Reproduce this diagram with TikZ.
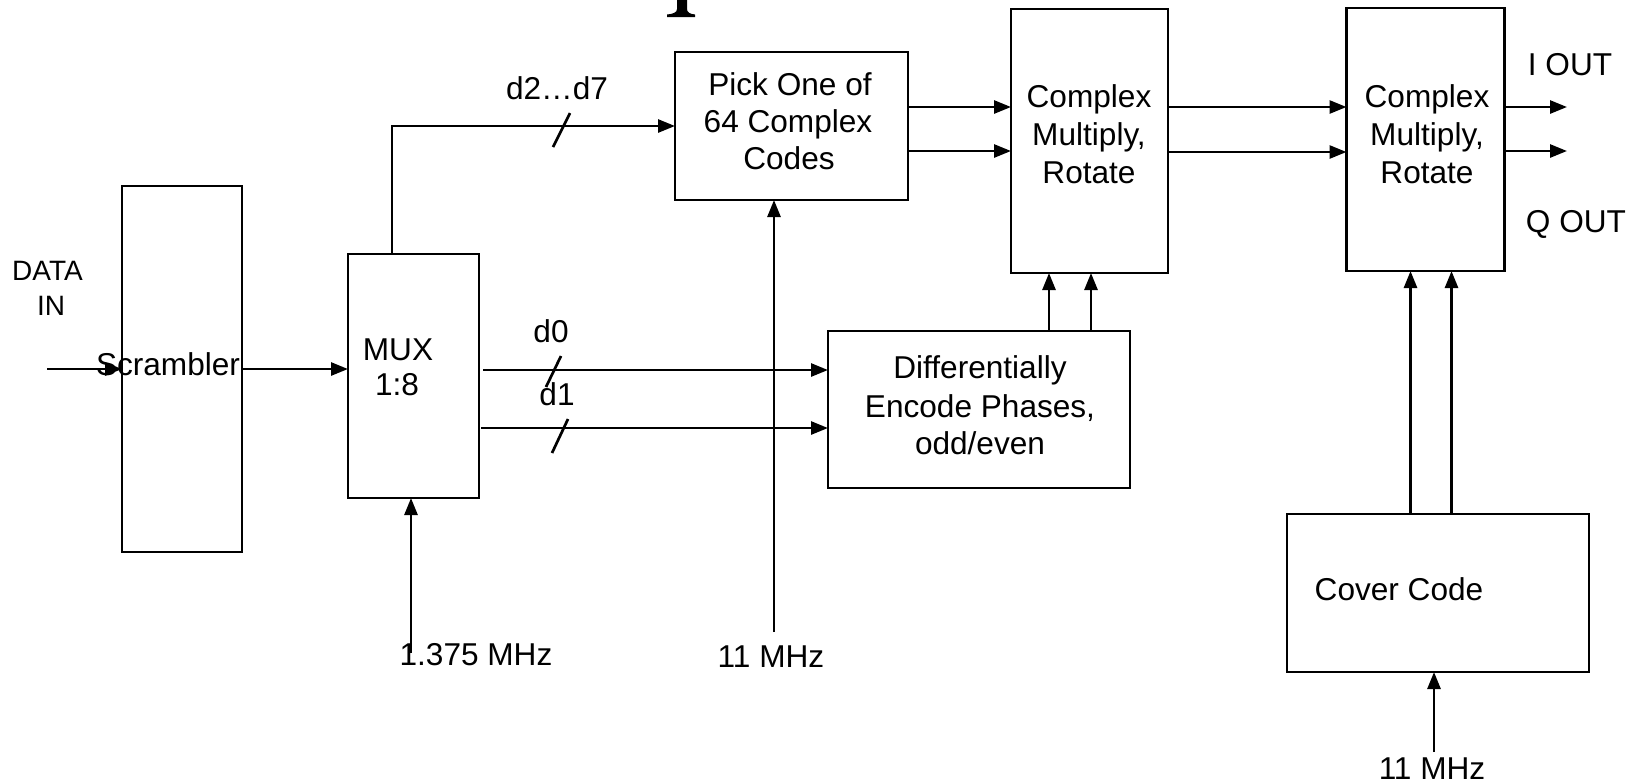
\documentclass[tikz,border=0pt]{standalone}
\usepackage{fontspec}
\setmainfont{Liberation Sans}
\usetikzlibrary{arrows.meta}
\begin{document}
\begin{tikzpicture}[x=0.5pt,y=-0.5pt,
  box/.style={draw, line width=1.35pt, inner sep=0pt, outer sep=0pt, rectangle},
  wire/.style={line width=1.35pt},
  arr/.style={wire, -{Triangle[length=8.5pt,width=6.5pt]}},
  lbl/.style={anchor=base, inner sep=0pt, font=\fontsize{15.8}{19}\selectfont},
  slbl/.style={anchor=base, inner sep=0pt, font=\fontsize{14}{16}\selectfont}]
\useasboundingbox (0,0) rectangle (1637,783);

% cut-off glyph at the top
\fill (677,0) -- (677,9) .. controls (677,12.5) and (673,14) .. (667,14.5) -- (667,17) -- (695,17) -- (695,14.5) .. controls (690,14) and (687,12.5) .. (687,9) -- (687,0) -- cycle;

% boxes
\node[box, minimum width=60pt, minimum height=183pt] (scr) at (182,369) {};
\node[box, minimum width=65.5pt, minimum height=122pt] (mux) at (413.5,376) {};
\node[box, minimum width=116.5pt, minimum height=74pt] (pick) at (791.5,126) {};
\node[box, minimum width=151pt, minimum height=78.5pt] (diff) at (979,409.5) {};
\node[box, minimum width=78.5pt, minimum height=132pt] (cm1) at (1089.5,141) {};
\node[box, minimum width=79pt, minimum height=131.5pt] (cm2) at (1425.5,139.5) {};
\node[box, minimum width=151pt, minimum height=79pt] (cover) at (1438,593) {};

% texts
\node[slbl] (tdata) at (47.5,280) {DATA};
\node[slbl] (tin) at (51,315) {IN};
\node[lbl] (tscr) at (168,375) {Scrambler};
\node[lbl] (tmux) at (398,360) {MUX};
\node[lbl] (tmux2) at (397,395) {1:8};
\node[lbl] (td27) at (557,99) {d2…d7};
\node[lbl] (tp1) at (790,95) {Pick One of};
\node[lbl] (tp2) at (788,132) {64 Complex};
\node[lbl] (tp3) at (789,169) {Codes};
\node[lbl] (td0) at (551,342) {d0};
\node[lbl] (td1) at (557,405) {d1};
\node[lbl] (tdf1) at (980,378) {Differentially};
\node[lbl] (tdf2) at (980,417) {Encode Phases,};
\node[lbl] (tdf3) at (980,454) {odd/even};
\node[lbl] (ta1) at (1089,107) {Complex};
\node[lbl] (ta2) at (1089,145) {Multiply,};
\node[lbl] (ta3) at (1089,183) {Rotate};
\node[lbl] (tb1) at (1427,107) {Complex};
\node[lbl] (tb2) at (1427,145) {Multiply,};
\node[lbl] (tb3) at (1427,183) {Rotate};
\node[lbl] (tiout) at (1570,75) {I OUT};
\node[lbl] (tqout) at (1576,232) {Q OUT};
\node[lbl] (tcov) at (1399,600) {Cover Code};
\node[lbl] (tck1) at (476,665) {1.375 MHz};
\node[lbl] (tck2) at (771,667) {11 MHz};
\node[lbl] (tck3) at (1432,779) {11 MHz};

% connectors
\coordinate (din) at (47,369);
\draw[arr] (din) -- (scr.west);
\draw[arr] (scr.east) -- (scr.east -| mux.west);
\coordinate (mtop) at ([xshift=-10.75pt]mux.north);
\draw[arr] (mtop) |- (pick.west);
\coordinate (d0s) at ([xshift=2pt,yshift=3pt]mux.east);
\draw[arr] (d0s) -- (d0s -| diff.west);
\coordinate (d1s) at ([xshift=1pt,yshift=-26pt]mux.east);
\draw[arr] (d1s) -- (d1s -| diff.west);
\draw[wire] (553,147) -- (570,113);
\draw[wire] (546,387) -- (561,356);
\draw[wire] (552,453) -- (568,419);

\coordinate (p1) at ([yshift=9.5pt]pick.east);
\coordinate (p2) at ([yshift=-12.5pt]pick.east);
\draw[arr] (p1) -- (p1 -| cm1.west);
\draw[arr] (p2) -- (p2 -| cm1.west);
\coordinate (c1) at ([yshift=17pt]cm1.east);
\coordinate (c2) at ([yshift=-5.5pt]cm1.east);
\draw[arr] (c1) -- (c1 -| cm2.west);
\draw[arr] (c2) -- (c2 -| cm2.west);
\coordinate (iout) at (1567,107);
\coordinate (qout) at (1567,151);
\draw[arr] (cm2.east |- iout) -- (iout);
\draw[arr] (cm2.east |- qout) -- (qout);

\coordinate (u1) at ([xshift=-20.25pt]cm1.south);
\coordinate (u2) at ([xshift=0.75pt]cm1.south);
\draw[arr] (u1 |- diff.north) -- (u1);
\draw[arr] (u2 |- diff.north) -- (u2);
\coordinate (v1) at ([xshift=-7.5pt]cm2.south);
\coordinate (v2) at ([xshift=13pt]cm2.south);
\draw[arr] (v1 |- cover.north) -- (v1);
\draw[arr] (v2 |- cover.north) -- (v2);

\coordinate (ck1) at (411,653);
\draw[arr] (ck1) -- (ck1 |- mux.south);
\coordinate (ck2) at (774,632);
\draw[arr] (ck2) -- (ck2 |- pick.south);
\coordinate (ck3) at (1434,752);
\draw[arr] (ck3) -- (ck3 |- cover.south);
\end{tikzpicture}
\end{document}
